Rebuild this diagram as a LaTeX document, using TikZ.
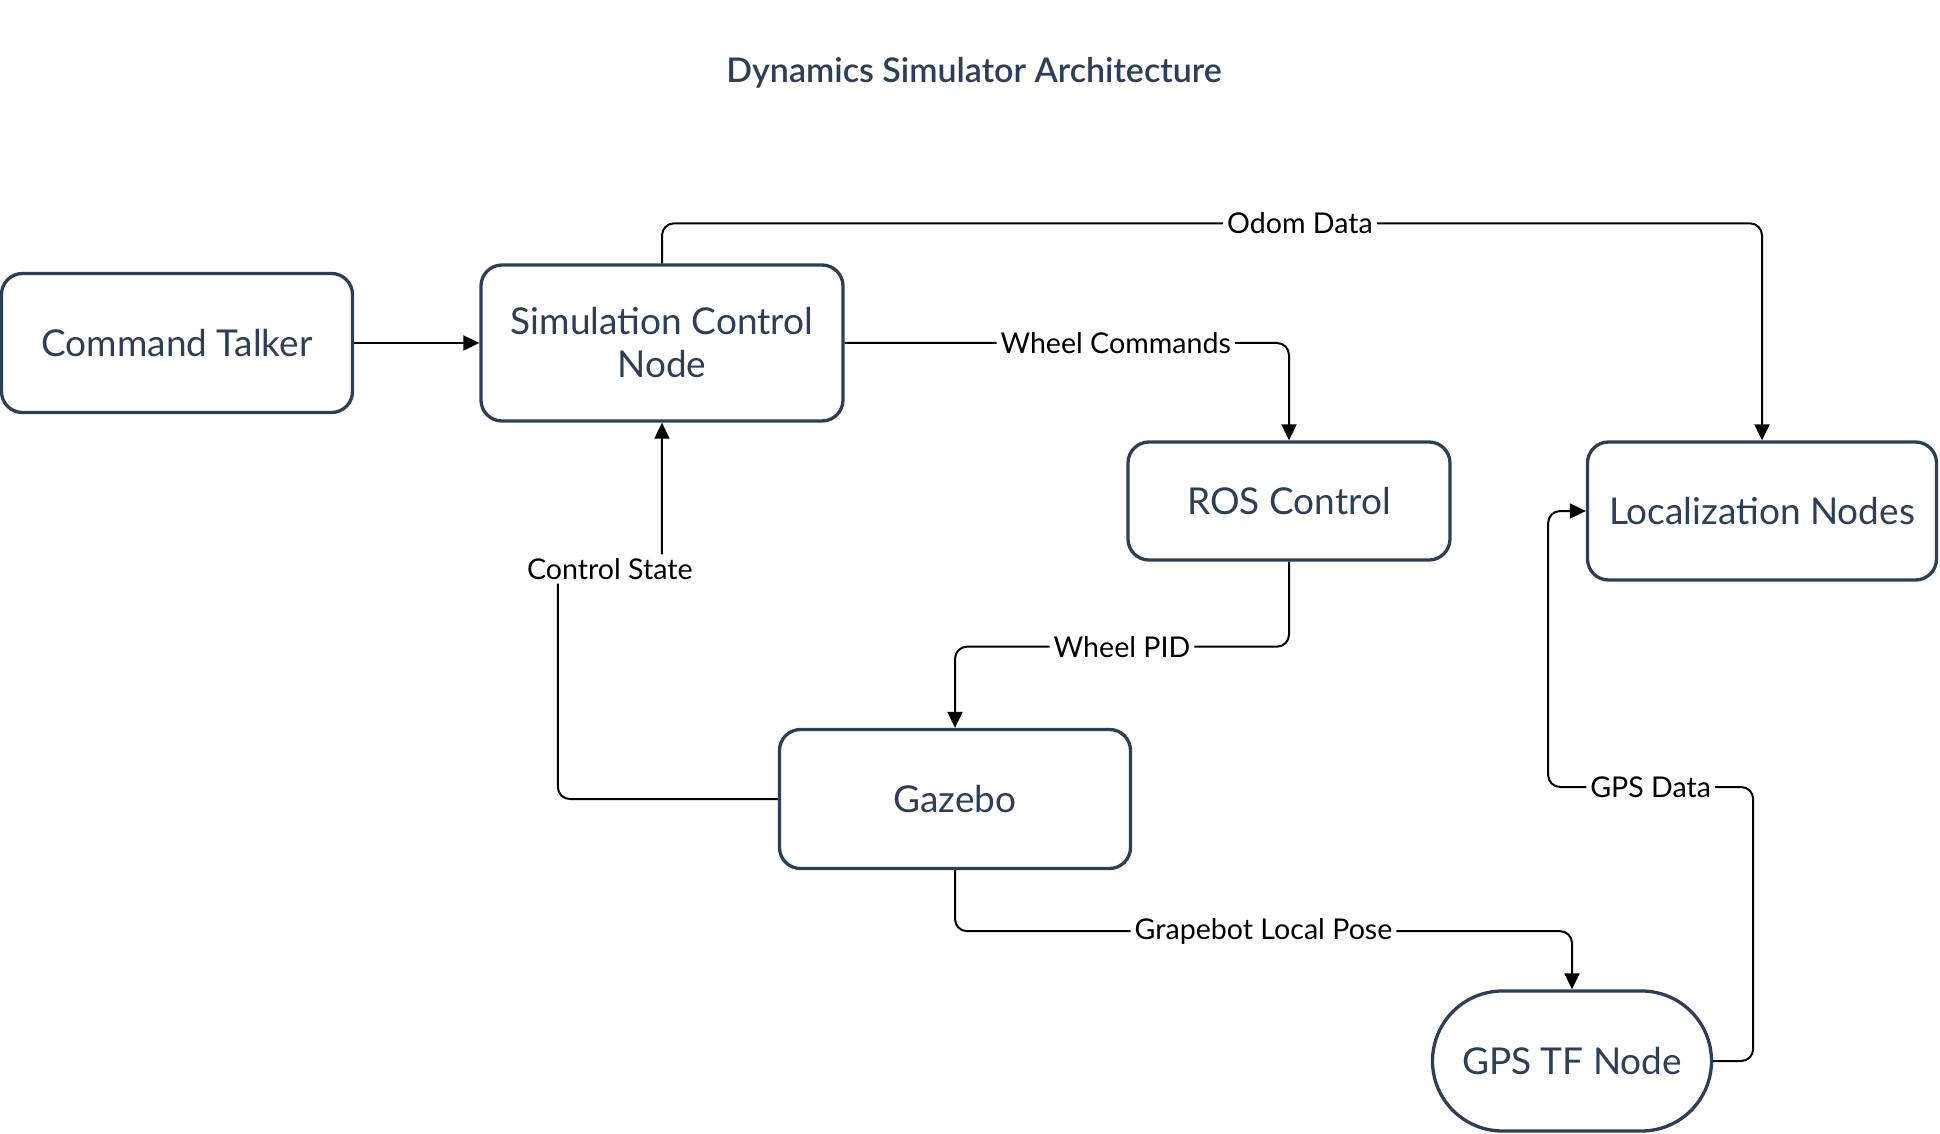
\documentclass[tikz,border=0pt]{standalone}
\usepackage{fontspec}
\setmainfont{Lato}
\newfontfamily\titlefont{Lato Semibold}
\usetikzlibrary{arrows.meta}
\definecolor{boxblue}{HTML}{2B4058}

\begin{document}
\begin{tikzpicture}[x=0.5pt, y=-0.5pt,
		box/.style={draw=boxblue, line width=1.65pt, rounded corners=10.5pt, text=boxblue, align=center, font=\fontsize{18.5}{21.5}\selectfont},
		conn/.style={draw=black, line width=1pt, rounded corners=6pt, -{Triangle[length=8pt,width=7.5pt]}},
		lbl/.style={fill=white, inner sep=2pt, text=black, font=\fontsize{14.3}{16}\selectfont}
		]
	\useasboundingbox (0,0) rectangle (1940,1134);
	\node [text=boxblue, font=\titlefont\fontsize{17}{20}\selectfont] (title) at (974,73) {Dynamics Simulator Architecture};

	\node [box, minimum width=175.5pt, minimum height=69.5pt] (cmd) at (177,343) {Command Talker};
	\node [box, minimum width=181pt, minimum height=78pt] (sim) at (662,343) {Simulation Control\\Node};
	\node [box, minimum width=161pt, minimum height=59pt] (ros) at (1289,501) {ROS Control};
	\node [box, minimum width=174.5pt, minimum height=69pt] (loc) at (1762,511) {Localization Nodes};
	\node [box, minimum width=175.5pt, minimum height=69.5pt] (gaz) at (955,799) {Gazebo};
	\node [box, rounded corners=35pt, minimum width=139.5pt, minimum height=70pt] (gps) at (1572,1061) {GPS TF Node};

	\draw [conn] (cmd) -- (sim);
	\draw [conn] (sim.north) -- ++(0,-40) -| node [lbl, pos=0.29] {Odom Data} (loc.north);
	\draw [conn] (sim.east) -| node [lbl, pos=0.305] {Wheel Commands} (ros.north);
	\draw [conn] (ros.south) -- ++(0,85) -| node [lbl, pos=0.25] {Wheel PID} (gaz.north);
	\draw [conn] (gaz.west) -| ++(-220,-230) -- node [lbl] {Control State} ++(104,0) -- (sim.south);
	\draw [conn] (gaz.south) -- ++(0,61) -| node [lbl, pos=0.25] {Grapebot Local Pose} (gps.north);
	\draw [conn] (gps.east) -- ++(40,0) |- node [lbl, pos=0.75] {GPS Data} ++(-205,-274) |- (loc.west);
\end{tikzpicture}
\end{document}
